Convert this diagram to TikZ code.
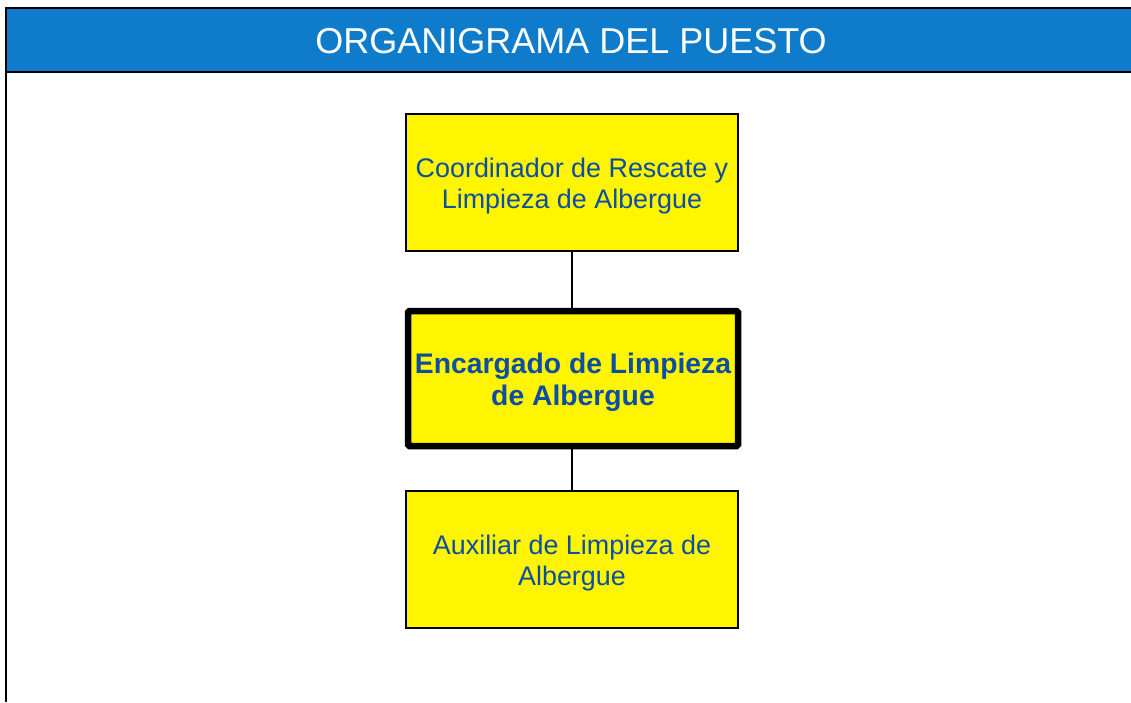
\documentclass[tikz,border=0pt]{standalone}
\usepackage{fontspec}
\setmainfont{Liberation Sans}
\definecolor{hdrblue}{HTML}{0E7CCB}
\definecolor{txtblue}{HTML}{0B4EA2}
\definecolor{boxyellow}{HTML}{FFF500}
\newcommand{\boxtext}[2]{\raisebox{0pt}[\dimexpr\height+#1\relax][\depth]{\begin{tabular}{@{}c@{}}#2\end{tabular}}}
\begin{document}
\begin{tikzpicture}[x=1pt,y=1pt,
  posbox/.style={draw=black, fill=boxyellow, line width=2.5pt, minimum width=332pt, minimum height=137pt,
    align=center, text=txtblue, font=\fontsize{26.9}{31.5}\selectfont, inner sep=0pt},
  mainbox/.style={posbox, line width=6.5pt, minimum width=330pt, minimum height=135pt, rounded corners=1.5pt,
    font=\fontsize{28.3}{32}\selectfont\bfseries},
  link/.style={draw=black, line width=2.5pt}]
\useasboundingbox (0,0) rectangle (1131,-702);
\fill[white] (0,0) rectangle (1131,-702);
\fill[hdrblue] (6,-8) rectangle (1131,-72);
\draw[line width=2.5pt] (4.75,-8) -- (1131,-8);
\draw[line width=2.5pt] (4.75,-72) -- (1131,-72);
\draw[line width=2.5pt] (6,-6.75) -- (6,-702);
\node[text=white, font=\fontsize{36}{40}\selectfont, inner sep=0pt] (title) at (571,-41.5) {ORGANIGRAMA DEL PUESTO};
\node[posbox] (coord) at (572,-182.5) {\boxtext{8pt}{Coordinador de Rescate y\\Limpieza de Albergue}};
\node[mainbox] (enc) at (573,-378.5) {\boxtext{10pt}{Encargado de Limpieza\\de Albergue}};
\node[posbox] (aux) at (572,-559.5) {\boxtext{8pt}{Auxiliar de Limpieza de\\Albergue}};
\draw[link] (coord.south -| 572,0) -- (enc.north -| 572,0);
\draw[link] (enc.south -| 572,0) -- (aux.north -| 572,0);
\end{tikzpicture}
\end{document}
